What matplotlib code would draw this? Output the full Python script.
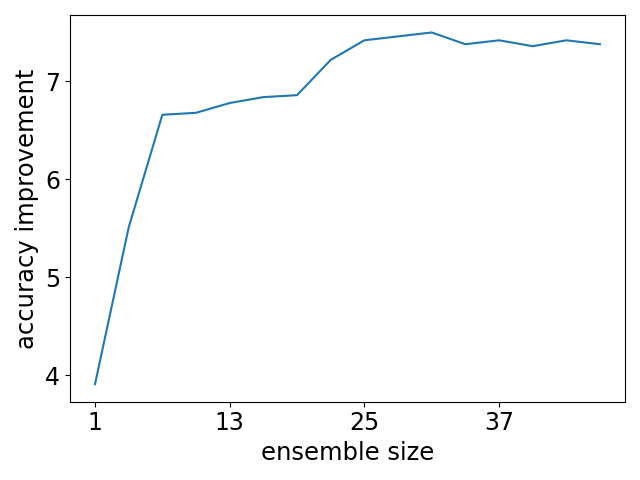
import matplotlib
matplotlib.use("Agg")
import matplotlib.pyplot as plt

ensemble_size = [1, 4, 7, 10, 13, 16, 19, 22, 25, 28, 31, 34, 37, 40, 43, 46]
improvement = [3.91, 5.51, 6.66, 6.68, 6.78, 6.84, 6.86, 7.22, 7.42, 7.46,
               7.50, 7.38, 7.42, 7.36, 7.42, 7.38]
xticks = [1, 13, 25, 37]
yticks = [4, 5, 6, 7]

plt.rcParams["font.size"] = 17
fig, ax = plt.subplots(figsize=(6.4, 4.8), dpi=100)
ax.plot(ensemble_size, improvement)
ax.set_xticks(xticks)
ax.set_yticks(yticks)
ax.set_xlabel("ensemble size", fontsize=17.5)
ax.set_ylabel("accuracy improvement", fontsize=17.5)
fig.subplots_adjust(left=0.109, right=0.977, top=0.969, bottom=0.163)
fig.savefig("out.png")
